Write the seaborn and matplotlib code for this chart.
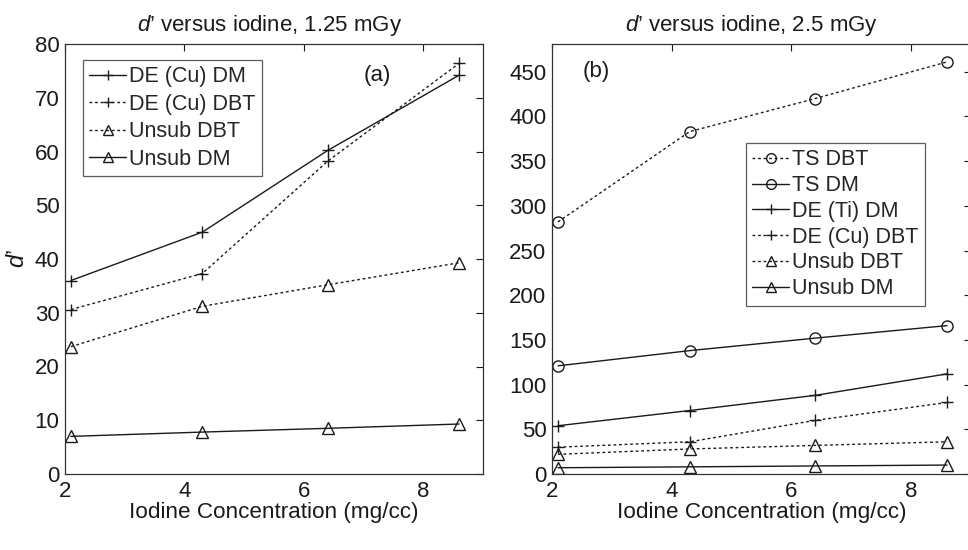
import matplotlib
matplotlib.use("Agg")
import matplotlib.pyplot as plt
import seaborn as sns
import pandas as pd

sns.set_theme(style="white")
plt.rcParams['font.family'] = ['Liberation Sans', 'DejaVu Sans']
plt.rcParams['mathtext.fontset'] = 'custom'
plt.rcParams['mathtext.it'] = 'Liberation Sans:italic'
plt.rcParams['mathtext.rm'] = 'Liberation Sans'

iodine = [2.1, 4.3, 6.4, 8.6]

# Panel (a): 1.25 mGy
a_de_cu_dm = [36.0, 45.0, 60.2, 74.2]
a_de_cu_dbt = [30.6, 37.3, 58.2, 76.4]
a_unsub_dbt = [23.7, 31.2, 35.2, 39.3]
a_unsub_dm = [7.0, 7.8, 8.5, 9.3]

# Panel (b): 2.5 mGy
b_ts_dbt = [282, 383, 420, 461]
b_ts_dm = [121, 138, 152, 166]
b_de_ti_dm = [54, 71, 88, 112]
b_de_cu_dbt = [30, 36, 60, 80]
b_unsub_dbt = [22, 28, 32, 36]
b_unsub_dm = [7, 8, 9, 10]

a_series = [("DE (Cu) DM", a_de_cu_dm, "solid", "+"),
            ("DE (Cu) DBT", a_de_cu_dbt, "dotted", "+"),
            ("Unsub DBT", a_unsub_dbt, "dotted", "^"),
            ("Unsub DM", a_unsub_dm, "solid", "^")]
b_series = [("TS DBT", b_ts_dbt, "dotted", "o"),
            ("TS DM", b_ts_dm, "solid", "o"),
            ("DE (Ti) DM", b_de_ti_dm, "solid", "+"),
            ("DE (Cu) DBT", b_de_cu_dbt, "dotted", "+"),
            ("Unsub DBT", b_unsub_dbt, "dotted", "^"),
            ("Unsub DM", b_unsub_dm, "solid", "^")]

fig = plt.figure(figsize=(9.68, 5.5), dpi=100)
ax1 = fig.add_axes([65/968, 76/550, 418/968, 430/550])
ax2 = fig.add_axes([552/968, 76/550, 419/968, 430/550])

color = "#1a1a1a"
msizes = {"+": 9, "o": 8, "^": 9}

def draw(ax, series):
    for name, vals, ls, mk in series:
        df = pd.DataFrame({"x": iodine, "y": vals})
        sns.lineplot(data=df, x="x", y="y", ax=ax, color=color, lw=1.0,
                     marker=mk, markersize=msizes[mk], markerfacecolor="none",
                     markeredgecolor=color, markeredgewidth=1.0,
                     label=name, sort=False)
        l = ax.get_lines()[-1]
        if ls == "dotted":
            l.set_dashes([2, 2])

draw(ax1, a_series)
draw(ax2, b_series)

for ax in (ax1, ax2):
    ax.set_xlim(2, 9)
    ax.set_xticks([2, 4, 6, 8])
    ax.tick_params(direction="in", length=5, width=0.8, top=True, right=True,
                   labelsize=16, colors=color)
    ax.tick_params(axis="x", pad=5)
    ax.tick_params(axis="y", pad=4)
    for s in ax.spines.values():
        s.set_color("#333333")
        s.set_linewidth(0.9)
    ax.set_xlabel("Iodine Concentration (mg/cc)", fontsize=16.2, labelpad=0, color=color)
    ax.set_facecolor("white")

ax1.set_ylim(0, 80)
ax1.set_yticks(range(0, 81, 10))
ax2.set_ylim(0, 481)
ax2.set_yticks(range(0, 451, 50))

ax1.set_ylabel("$\\mathit{d’}$", fontsize=17, labelpad=4, color=color)
ax2.set_ylabel("")

fig.text(270/968, 1 - 25/550, "$\\mathit{d’}$ versus iodine, 1.25 mGy", fontsize=16,
         ha="center", va="center", color=color)
fig.text(752/968, 1 - 25/550, "$\\mathit{d’}$ versus iodine, 2.5 mGy", fontsize=16,
         ha="center", va="center", color=color)

ax1.text(7.23, 74.2, "(a)", fontsize=16, color=color, ha="center", va="center")
ax2.text(2.74, 449.7, "(b)", fontsize=16, color=color, ha="center", va="center")

def style_leg(leg):
    leg.get_frame().set_edgecolor("#333333")
    leg.get_frame().set_linewidth(0.9)
    for h in leg.legend_handles:
        h.set_markersize(7)

leg1 = ax1.legend(loc="upper left", bbox_to_anchor=(18/418, 1 - 16/430), fontsize=15.5,
                  frameon=True, fancybox=False, handlelength=1.7, handletextpad=0.15,
                  borderpad=0.3, labelspacing=0.3, borderaxespad=0)
style_leg(leg1)

leg2 = ax2.legend(loc="upper left", bbox_to_anchor=(194/419, 1 - 99/430), fontsize=15.5,
                  frameon=True, fancybox=False, handlelength=1.7, handletextpad=0.15,
                  borderpad=0.3, labelspacing=0.22, borderaxespad=0)
style_leg(leg2)

fig.savefig("out.png", dpi=100, facecolor="white")
